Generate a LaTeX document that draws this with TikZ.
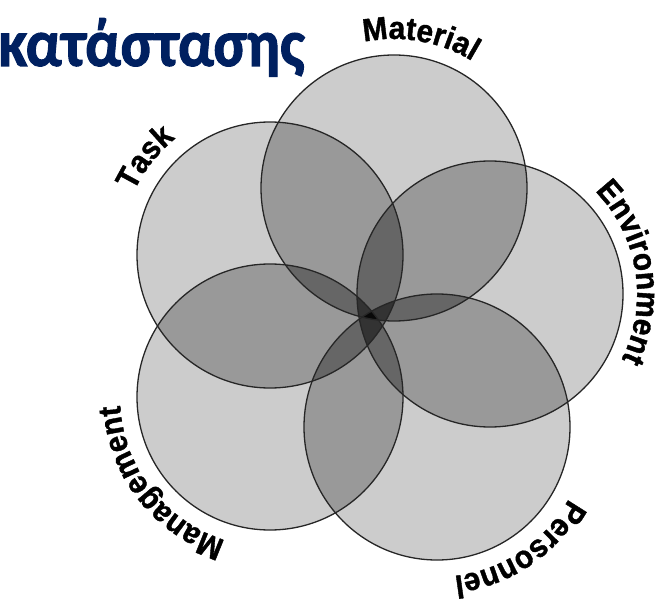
\documentclass[tikz,border=0pt]{standalone}
\usepackage{fontspec}
\usetikzlibrary{calc,decorations.text}
\newfontfamily\titlefont{Carlito}[FakeStretch=0.91,FakeBold=1.5]
\newfontfamily\labfont{Liberation Sans}[FakeStretch=0.93,FakeBold=1.2]
\definecolor{titleblue}{RGB}{0,32,96}
\definecolor{gA}{gray}{0.80}
\definecolor{gB}{gray}{0.60}
\definecolor{gC}{gray}{0.40}
\definecolor{gD}{gray}{0.20}
\definecolor{gE}{gray}{0.03}
\tikzset{
  ring/.style={draw=black!85, line width=1.3pt},
  lab/.style={decorate, decoration={text along path, text align=center,
     text={|\labfont\bfseries\fontsize{32}{33}\selectfont|#1}}}
}
\begin{document}
\begin{tikzpicture}[x=1pt,y=1pt]
\useasboundingbox (0,0) rectangle (658,603);
\def\R{133pt}
\coordinate (A) at (394,415); % Material
\coordinate (B) at (270,348); % Task
\coordinate (C) at (490,309); % Environment
\coordinate (D) at (437,176); % Personnel
\coordinate (E) at (270,206); % Management
% layer 1
\foreach \p in {A,B,C,D,E}{\fill[gA] (\p) circle[radius=\R];}
% layer 2
\foreach \p/\q in {A/B,A/C,A/D,A/E,B/C,B/D,B/E,C/D,C/E,D/E}{
  \begin{scope}\clip (\p) circle[radius=\R]; \fill[gB] (\q) circle[radius=\R];\end{scope}}
% layer 3
\foreach \p/\q/\s in {A/B/C,A/B/D,A/B/E,A/C/D,A/C/E,A/D/E,B/C/D,B/C/E,B/D/E,C/D/E}{
  \begin{scope}\clip (\p) circle[radius=\R]; \clip (\q) circle[radius=\R];
  \fill[gC] (\s) circle[radius=\R];\end{scope}}
% layer 4
\foreach \p/\q/\s/\t in {A/B/C/D,A/B/C/E,A/B/D/E,A/C/D/E,B/C/D/E}{
  \begin{scope}\clip (\p) circle[radius=\R]; \clip (\q) circle[radius=\R];
  \clip (\s) circle[radius=\R]; \fill[gD] (\t) circle[radius=\R];\end{scope}}
% layer 5
\begin{scope}\clip (A) circle[radius=\R]; \clip (B) circle[radius=\R];
  \clip (C) circle[radius=\R]; \clip (D) circle[radius=\R];
  \fill[gE] (E) circle[radius=\R];\end{scope}
% outlines
\foreach \p in {A,B,C,D,E}{\draw[ring] (\p) circle[radius=\R];}
% labels
\path[lab=Material] ($(A)+(125:149)$) arc (125:35:149pt);
\path[lab=Task] ($(B)+(185:150)$) arc (185:99:150pt);
\path[lab=Environment] ($(C)+(60:147)$) arc (60:-42:147pt);
\path[lab=Personnel] ($(D)+(-5:150)$) arc (-5:-107:150pt);
\path[lab=Management] ($(E)+(270:150)$) arc (270:166:150pt);
% title
\node[anchor=base west, inner sep=0, text=titleblue,
  font=\titlefont\bfseries\fontsize{67}{70}\selectfont] (title) at (-2,537) {κατάστασης};
\end{tikzpicture}
\end{document}
